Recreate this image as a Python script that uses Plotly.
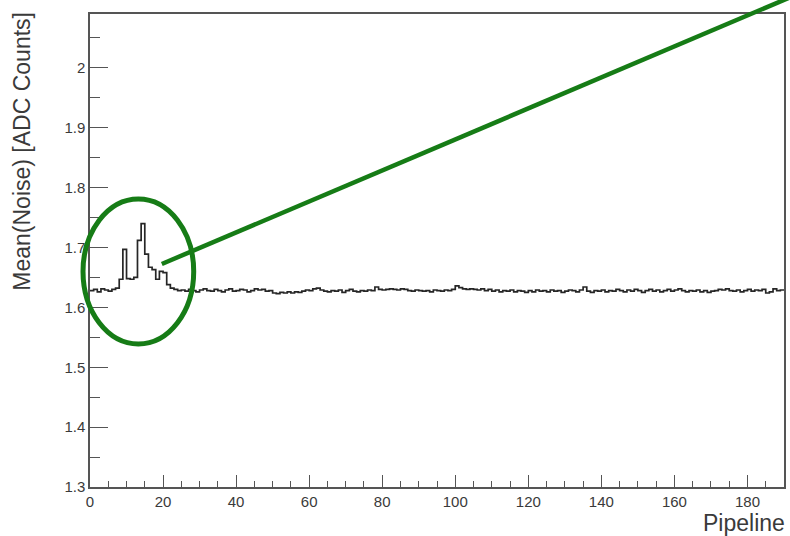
import plotly.graph_objects as go

# Mean noise per pipeline cell (one value per bin, pipeline 0..189)
pipeline_edges = list(range(0, 191))
mean_noise = [
    # 0-24: start-up region with noisy cells
    1.628, 1.630, 1.626, 1.631, 1.629, 1.627, 1.630, 1.632,
    1.647, 1.697, 1.648, 1.647, 1.650,
    1.712, 1.740, 1.689, 1.667, 1.663,
    1.647, 1.660, 1.658, 1.638, 1.632, 1.630, 1.628,
    # 25-189: flat plateau
    1.629, 1.627, 1.630, 1.628, 1.626, 1.629, 1.631, 1.628, 1.627, 1.630,
    1.628, 1.626, 1.629, 1.631, 1.627, 1.628, 1.630, 1.629, 1.626, 1.628,
    1.631, 1.629, 1.630, 1.627, 1.628, 1.624, 1.623, 1.625, 1.624, 1.626,
    1.624, 1.626, 1.625, 1.627, 1.629, 1.628, 1.631, 1.632, 1.629, 1.627,
    1.626, 1.628, 1.627, 1.629, 1.625, 1.628, 1.630, 1.627, 1.626, 1.628,
    1.627, 1.629, 1.628, 1.634, 1.630, 1.629, 1.630, 1.631, 1.630, 1.629,
    1.631, 1.630, 1.628, 1.627, 1.629, 1.628, 1.627, 1.628, 1.626, 1.629,
    1.628, 1.627, 1.629, 1.628, 1.630, 1.636, 1.633, 1.631, 1.630, 1.631,
    1.630, 1.629, 1.631, 1.628, 1.630, 1.627, 1.629, 1.626, 1.628, 1.627,
    1.629, 1.626, 1.628, 1.627, 1.625, 1.628, 1.626, 1.629, 1.627, 1.628,
    1.626, 1.629, 1.627, 1.628, 1.625, 1.627, 1.629, 1.628, 1.626, 1.629,
    1.634, 1.627, 1.625, 1.628, 1.627, 1.629, 1.626, 1.628, 1.627, 1.630,
    1.628, 1.626, 1.629, 1.627, 1.630, 1.628, 1.625, 1.628, 1.630, 1.627,
    1.629, 1.626, 1.628, 1.630, 1.627, 1.629, 1.631, 1.628, 1.626, 1.628,
    1.627, 1.629, 1.626, 1.628, 1.625, 1.627, 1.628, 1.630, 1.629, 1.631,
    1.628, 1.627, 1.629, 1.626, 1.628, 1.630, 1.627, 1.629, 1.628, 1.630,
    1.624, 1.626, 1.631, 1.628, 1.629,
]

x_title = "Pipeline"
y_title = "Mean(Noise) [ADC Counts]"
x_range = [0, 190]
y_range = [1.3, 2.09]
y_tick_values = [1.3, 1.4, 1.5, 1.6, 1.7, 1.8, 1.9, 2.0]
y_tick_labels = ["1.3", "1.4", "1.5", "1.6", "1.7", "1.8", "1.9", "2"]

W, H = 790, 536
L, R, T, B = 90, 4, 14, 49
pw, ph = W - L - R, H - T - B


def px(xp):
    return (xp - L) / pw


def py(yp):
    return (H - B - yp) / ph


fig = go.Figure()

# step histogram outline
fig.add_trace(go.Scatter(
    x=pipeline_edges,
    y=mean_noise + [mean_noise[-1]],
    mode="lines",
    line=dict(shape="hv", color="#262626", width=1.7),
    hoverinfo="skip",
    showlegend=False,
))

axis_font = dict(family="Liberation Sans, Arial, sans-serif", size=15, color="#3a3a3a")

fig.update_xaxes(
    range=x_range,
    showgrid=False, zeroline=False,
    showline=True, linecolor="#555555", linewidth=1.5, mirror=True,
    ticks="inside", ticklen=12, tickwidth=1, tickcolor="#555555",
    tick0=0, dtick=20,
    minor=dict(ticks="inside", ticklen=6, dtick=5, tickcolor="#555555", tickwidth=1),
    tickfont=axis_font,
)
fig.update_yaxes(
    range=y_range,
    showgrid=False, zeroline=False,
    showline=True, linecolor="#555555", linewidth=1.5, mirror=True,
    ticks="inside", ticklen=18, tickwidth=1, tickcolor="#555555",
    tickmode="array", tickvals=y_tick_values, ticktext=y_tick_labels,
    minor=dict(ticks="inside", ticklen=10, tick0=1.3, dtick=0.05,
               tickcolor="#555555", tickwidth=1),
    tickfont=axis_font,
)

title_font = dict(family="Liberation Sans, Arial, sans-serif", size=23, color="#3a3a3a")
fig.add_annotation(
    text=y_title, textangle=-90,
    xref="paper", yref="paper", x=px(22), y=py(10),
    xanchor="center", yanchor="top", showarrow=False, font=title_font,
)
fig.add_annotation(
    text=x_title,
    xref="paper", yref="paper", x=px(789), y=py(523),
    xanchor="right", yanchor="middle", showarrow=False, font=title_font,
)

# green highlight: ellipse around the noisy cells and a pointer line
green = "rgb(22,124,22)"
fig.add_shape(
    type="circle", xref="paper", yref="paper",
    x0=px(83), x1=px(194), y0=py(344), y1=py(199),
    line=dict(color=green, width=5),
)
fig.add_shape(
    type="line", xref="paper", yref="paper",
    x0=px(162), y0=py(264), x1=px(800), y1=py(-6),
    line=dict(color=green, width=4.5),
)

fig.update_layout(
    width=W, height=H,
    margin=dict(l=L, r=R, t=T, b=B),
    paper_bgcolor="white", plot_bgcolor="white",
    showlegend=False,
)

fig.write_html("out.html")
